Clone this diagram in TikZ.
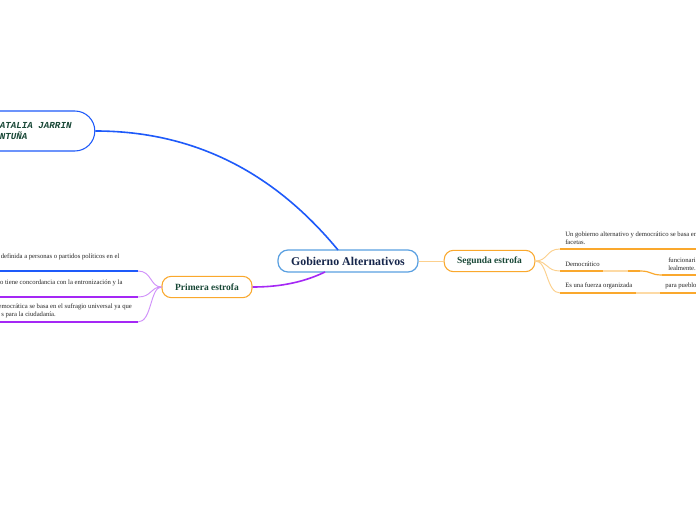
\documentclass[tikz,border=0pt]{standalone}
\usepackage{fontspec}
\setmainfont{Liberation Serif}
\newfontfamily\monoft{Liberation Mono}
\usetikzlibrary{calc}
\definecolor{cblue}{RGB}{30,90,250}
\definecolor{cborder}{RGB}{90,160,225}
\definecolor{cnavy}{RGB}{22,38,75}
\definecolor{cgreen}{RGB}{25,72,55}
\definecolor{corange}{RGB}{250,168,45}
\definecolor{clorange}{RGB}{253,218,165}
\definecolor{cpurple}{RGB}{165,40,245}
\definecolor{clpurple}{RGB}{208,145,250}
\tikzset{
  mainbox/.style={draw=cborder, line width=0.9pt, rounded corners=7.5pt, fill=white,
    minimum width=105pt, minimum height=16.5pt, inner sep=0pt,
    font=\fontsize{8.9}{10}\selectfont\bfseries, text=cnavy},
  subbox/.style={draw=corange, line width=0.8pt, rounded corners=7pt, fill=white,
    minimum height=16pt, inner sep=0pt,
    font=\fontsize{7.1}{8}\selectfont\bfseries, text=cgreen},
  namebox/.style={draw=cblue, line width=0.8pt, rounded corners=15pt,
    minimum width=101pt, minimum height=30pt, inner sep=0pt},
  small/.style={anchor=south west, inner sep=0pt, align=left,
    font=\fontsize{5}{5.9}\selectfont, text=black!85},
  thickor/.style={draw=corange, line width=1.6pt},
  lightor/.style={draw=clorange, line width=1.6pt},
  orcon/.style={draw=clorange!80!corange, line width=0.7pt},
  pcon/.style={draw=clpurple, line width=0.7pt},
}
\begin{document}
\begin{tikzpicture}[x=0.75pt,y=-0.75pt]
\useasboundingbox (0,0) rectangle (696,520);
\fill[white] (0,0) rectangle (696,520);

\node[namebox] (natalia) at (27.5,131) {};
\node[anchor=west, inner sep=0pt, align=left, text=cgreen,
  font=\monoft\fontsize{6.9}{8.6}\selectfont\bfseries\itshape] (nattext) at (-6,131)
  {NATALIA JARRIN\\ANTUÑA};

\node[mainbox] (central) at (348,261) {Gobierno Alternativos};
\node[subbox, minimum width=67.5pt] (primera) at (207,287) {Primera estrofa};
\node[subbox, minimum width=68pt] (segunda) at (489.5,261) {Segunda estrofa};

\coordinate (ctop) at (338,250);
\coordinate (cbot) at (325,272);
\draw[cblue, line width=1.2pt] (natalia.east) .. controls (215,131) and (290,192) .. (ctop);
\draw[cpurple, line width=1.2pt] (cbot) .. controls (300,284) and (275,287) .. (primera.east);
\draw[orcon] (central.east) -- (segunda.west);

% left branches
\coordinate (l1) at (138,271);
\coordinate (l2) at (138,297);
\coordinate (l3) at (138,322);
\draw[pcon] (primera.west) .. controls (150,287) and (152,271) .. (l1);
\draw[pcon] (primera.west) .. controls (150,287) and (152,297) .. (l2);
\draw[pcon] (primera.west) .. controls (150,287) and (152,322) .. (l3);
\draw[cblue, line width=1.5pt] (l1) -- (-5,271);
\draw[cpurple, line width=1.5pt] (l2) -- (-5,297);
\draw[cpurple, line width=1.5pt] (l3) -- (-5,322);
\node[small] (t1) at (0.5,260) {definida a personas o partidos políticos en el};
\node[small] (t2) at (-3.5,286) {no tiene concordancia con la entronización y la};
\node[small] (t3) at (-5,318) {democrática se basa en el sufragio universal ya que\\\hspace*{4.6pt}s para la ciudadanía.};

% right branches
\coordinate (r1) at (560,249);
\coordinate (r2) at (560,271);
\coordinate (r3) at (560,293);
\draw[orcon] (segunda.east) .. controls (548,261) and (546,249) .. (r1);
\draw[orcon] (segunda.east) .. controls (548,261) and (546,271) .. (r2);
\draw[orcon] (segunda.east) .. controls (548,261) and (546,293) .. (r3);
\draw[thickor] (r1) -- (700,249);
\draw[thickor] (r2) -- (603,271);
\draw[lightor] (603,271) -- (628,271);
\draw[thickor] (628,271) -- (640,271);
\coordinate (d2) at (662,275);
\draw[corange, line width=0.9pt] (640,271) .. controls (652,271) and (650,275) .. (d2);
\draw[thickor] (d2) -- (700,275);
\draw[thickor] (r3) -- (636,293);
\draw[lightor] (636,293) -- (660,293);
\draw[thickor] (660,293) -- (700,293);

\node[small] (s1) at (565,245) {Un gobierno alternativo y democrático se basa en\\facetas.};
\node[small] (s2) at (565,267) {Democrático};
\node[small] (s3) at (668,271) {funcionari\\lealmente.};
\node[small] (s4) at (565,289) {Es una fuerza organizada};
\node[small] (s5) at (665,289) {para pueblo};
\end{tikzpicture}
\end{document}
